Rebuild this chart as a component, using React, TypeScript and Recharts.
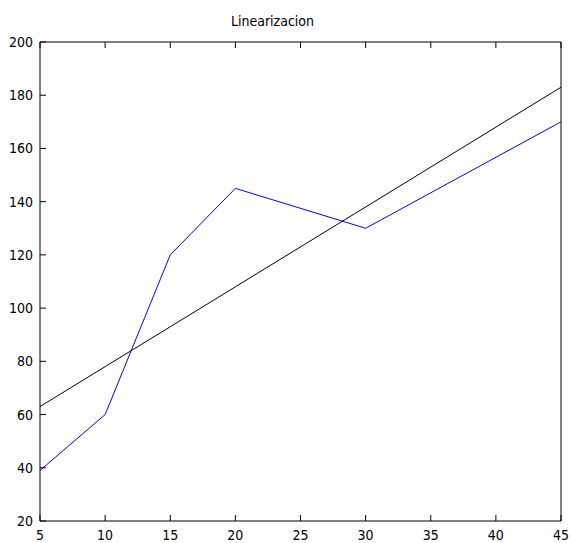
import { LineChart, Line, XAxis, YAxis } from 'recharts';

// values
const xValues = [5, 10, 15, 20, 30, 45];
const measured = [39, 60, 120, 145, 130, 170];
const fitted = [63, 78, 93, 108, 138, 183];

const xTicks = [5, 10, 15, 20, 25, 30, 35, 40, 45];
const yTicks = [20, 40, 60, 80, 100, 120, 140, 160, 180, 200];

const chartData = xValues.map((x, i) => ({
  x,
  measured: measured[i],
  fitted: fitted[i],
}));

const font = '"DejaVu Sans Condensed", "Liberation Sans Narrow", "DejaVu Sans", sans-serif';
const tickLen = 6;

// ticks point into the plot box, like the original
function BottomTick({ x, y, payload }: any) {
  return (
    <g>
      <line x1={x} x2={x} y1={y} y2={y - tickLen} stroke="#000" />
      <text x={x} y={y + 19} textAnchor="middle" fontSize={14} fontFamily={font} fill="#000">
        {payload.value}
      </text>
    </g>
  );
}

function TopTick({ x, y }: any) {
  return <line x1={x} x2={x} y1={y} y2={y + tickLen} stroke="#000" />;
}

function LeftTick({ x, y, payload }: any) {
  return (
    <g>
      <line x1={x} x2={x + tickLen} y1={y} y2={y} stroke="#000" />
      <text x={x - 7} y={y + 5} textAnchor="end" fontSize={14} fontFamily={font} fill="#000">
        {payload.value}
      </text>
    </g>
  );
}

function RightTick({ x, y }: any) {
  return <line x1={x} x2={x - tickLen} y1={y} y2={y} stroke="#000" />;
}

const axisStroke = { stroke: '#000' };

export default function App() {
  return (
    <div style={{ position: 'absolute', left: 0, top: 0, width: 571, height: 543, background: '#fff' }}>
      <div
        style={{
          position: 'absolute',
          left: 0,
          width: 545,
          top: 13,
          textAlign: 'center',
          fontFamily: font,
          fontSize: 14,
          lineHeight: '16px',
          color: '#000',
        }}
      >
        Linearizacion
      </div>
      <LineChart width={571} height={543} data={chartData} margin={{ top: 0, right: 0, bottom: 0, left: 0 }}>
        <XAxis
          xAxisId="bottom"
          dataKey="x"
          type="number"
          domain={[5, 45]}
          ticks={xTicks}
          orientation="bottom"
          height={22}
          tickSize={0}
          tickMargin={0}
          tickLine={false}
          axisLine={axisStroke}
          tick={<BottomTick />}
          interval={0}
        />
        <XAxis
          xAxisId="top"
          dataKey="x"
          type="number"
          domain={[5, 45]}
          ticks={xTicks}
          orientation="top"
          height={42}
          tickSize={0}
          tickMargin={0}
          tickLine={false}
          axisLine={axisStroke}
          tick={<TopTick />}
          interval={0}
        />
        <YAxis
          yAxisId="left"
          type="number"
          domain={[20, 200]}
          ticks={yTicks}
          orientation="left"
          width={40}
          tickSize={0}
          tickMargin={0}
          tickLine={false}
          axisLine={axisStroke}
          tick={<LeftTick />}
          interval={0}
        />
        <YAxis
          yAxisId="right"
          type="number"
          domain={[20, 200]}
          ticks={yTicks}
          orientation="right"
          width={10}
          tickSize={0}
          tickMargin={0}
          tickLine={false}
          axisLine={axisStroke}
          tick={<RightTick />}
          interval={0}
        />
        <Line
          xAxisId="bottom"
          yAxisId="left"
          type="linear"
          dataKey="measured"
          stroke="#0000ff"
          strokeWidth={1}
          dot={false}
          isAnimationActive={false}
        />
        <Line
          xAxisId="bottom"
          yAxisId="left"
          type="linear"
          dataKey="fitted"
          stroke="#000"
          strokeWidth={1}
          dot={false}
          isAnimationActive={false}
        />
      </LineChart>
    </div>
  );
}
